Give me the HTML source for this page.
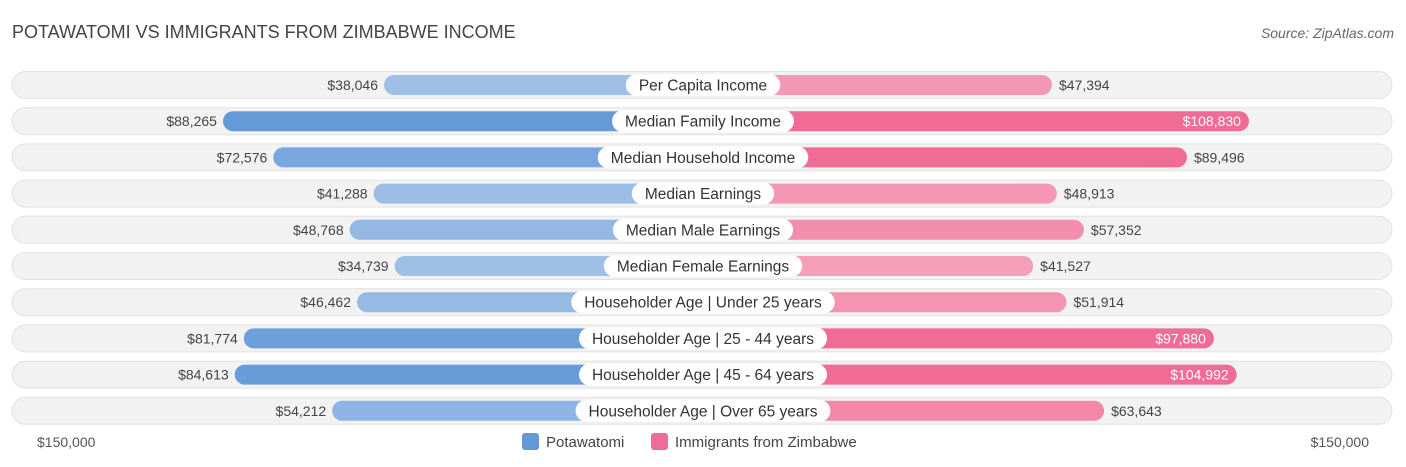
<!DOCTYPE html>
<html><head><meta charset="utf-8">
<style>
body{margin:0;background:#fff;font-family:"Liberation Sans",sans-serif;}
#wrap{position:relative;width:1406px;height:467px;overflow:hidden;}
</style></head>
<body>
<div id="wrap">
<svg id="chart" width="1406" height="467">
  <text x="12" y="38" font-size="18" fill="#444">POTAWATOMI VS IMMIGRANTS FROM ZIMBABWE INCOME</text>
  <text x="1394" y="38" font-size="14" fill="#666" font-style="italic" text-anchor="end">Source: ZipAtlas.com</text>
  <g id="rows"></g>
  <text x="37" y="447" font-size="14" fill="#555">$150,000</text>
  <text x="1369" y="447" font-size="14" fill="#555" text-anchor="end">$150,000</text>
  <g>
    <rect x="522" y="433" width="17" height="17" rx="3" fill="#6399d9"/>
    <text x="546" y="447" font-size="15" fill="#444">Potawatomi</text>
    <rect x="651" y="433" width="17" height="17" rx="3" fill="#f06b95"/>
    <text x="675" y="447" font-size="15" fill="#444">Immigrants from Zimbabwe</text>
  </g>
</svg>
</div>
<script>
const categories=["Per Capita Income","Median Family Income","Median Household Income","Median Earnings","Median Male Earnings","Median Female Earnings","Householder Age | Under 25 years","Householder Age | 25 - 44 years","Householder Age | 45 - 64 years","Householder Age | Over 65 years"];
const potawatomi=[38046,88265,72576,41288,48768,34739,46462,81774,84613,54212];
const zimbabwe=[47394,108830,89496,48913,57352,41527,51914,97880,104992,63643];
const maxValue=150000;

const NS="http://www.w3.org/2000/svg";
const cx=703, offset=197, k=(1381-cx-offset)/maxValue;
function xLeft(v){return cx-offset-v*k;}
function xRight(v){return cx+offset+v*k;}
function yRow(i){return 85+i*36.2;}
function fmt(v){return "$"+v.toLocaleString("en-US");}
function mix(a,b,t){return "rgb("+a.map((c,i)=>Math.round(c+(b[i]-c)*t)).join(",")+")";}
function shade(v,light,strong){let t=Math.min(1,Math.max(0,(v-40000)/50000));return mix(light,strong,t);}
function mk(tag,attrs,parent){const e=document.createElementNS(NS,tag);for(const a in attrs)e.setAttribute(a,attrs[a]);parent.appendChild(e);return e;}
const g=document.getElementById("rows");
categories.forEach((cat,i)=>{
  const y=yRow(i);
  const row=mk("g",{},g);
  
  
  const bg=mk("rect",{x:12,y:y-13.5,width:1380,height:27,rx:13.5,fill:"#f2f2f2",stroke:"#e2e2e2","stroke-width":1},row);
  
  
  const pv=potawatomi[i], zv=zimbabwe[i];
  const xl=xLeft(pv);
  const bl=mk("rect",{x:xl,y:y-10,width:cx-xl,height:20,rx:10,fill:shade(pv,[158,191,230],[99,153,217])},row);
  
  
  const xr=xRight(zv);
  const br=mk("rect",{x:cx,y:y-10,width:xr-cx,height:20,rx:10,fill:shade(zv,[245,160,187],[240,107,149])},row);
  
  
  const lt=mk("text",{x:xl-6,y:y+5,"font-size":14,fill:"#444","text-anchor":"end"},row);
  lt.textContent=fmt(pv);
  
  
  const inside=zv>90000;
  const rt=mk("text",{x:inside?xr-8:xr+7,y:y+5,"font-size":14,fill:inside?"#fff":"#444","text-anchor":inside?"end":"start"},row);
  rt.textContent=fmt(zv);
  
  
  const lbl=mk("text",{x:cx,y:y+5.5,"font-size":15.5,fill:"#333","text-anchor":"middle"},row);
  lbl.textContent=cat;
  
  
  const w=lbl.getComputedTextLength()+26;
  const pill=mk("rect",{x:cx-w/2,y:y-11,width:w,height:22,rx:11,fill:"#fff"},row);
  
  
  row.insertBefore(pill,lbl);
});
</script>
</body></html>
